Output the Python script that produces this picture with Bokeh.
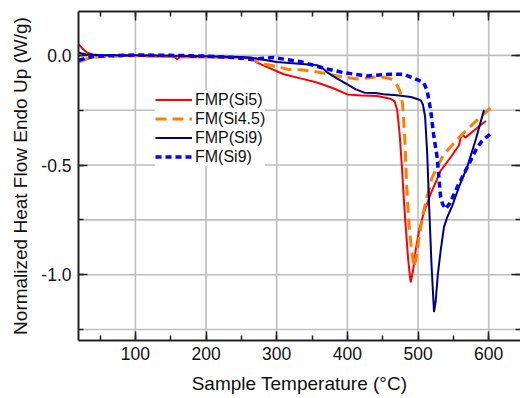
from bokeh.plotting import figure
from bokeh.models import (LinearAxis, SingleIntervalTicker, NumeralTickFormatter,
                          Legend, LegendItem)
from bokeh.embed import file_html
from bokeh.resources import INLINE

# ---- data ----
T_fmp_si5 = [20, 24, 28, 32, 40, 51, 80, 120, 155, 159, 163, 200, 240, 263, 273, 290, 310, 335, 357,
             380, 400, 420, 442, 461, 467, 470.5, 474, 477, 480, 483, 486, 489.6, 493, 497, 502, 508,
             518, 532, 545, 558, 560, 562, 567, 580, 596]
v_fmp_si5 = [0.05, 0.035, 0.022, 0.012, 0.004, 0.0, -0.002, -0.004, -0.006, -0.018, -0.007, -0.009,
             -0.011, -0.013, -0.034, -0.058, -0.086, -0.106, -0.124, -0.15, -0.178, -0.183, -0.185,
             -0.198, -0.21, -0.25, -0.36, -0.5, -0.66, -0.8, -0.93, -1.035, -0.98, -0.88, -0.79,
             -0.72, -0.63, -0.526, -0.47, -0.41, -0.38, -0.36, -0.375, -0.34, -0.299]

T_fm_si45 = [20, 28, 37, 60, 100, 150, 200, 250, 270, 282, 292, 316, 334, 358, 380, 395, 415, 437,
             447, 460, 466, 471, 475, 478, 481, 484, 487, 490, 494, 497, 500, 504, 508, 520, 530,
             537, 548, 556, 563, 572, 582, 592, 603]
v_fm_si45 = [-0.03, -0.02, -0.01, -0.004, -0.002, -0.004, -0.006, -0.012, -0.025, -0.04, -0.045,
             -0.064, -0.066, -0.076, -0.09, -0.1, -0.108, -0.1, -0.099, -0.105, -0.117, -0.14, -0.17,
             -0.22, -0.36, -0.6, -0.76, -0.86, -0.965, -0.93, -0.86, -0.78, -0.708, -0.556, -0.49,
             -0.45, -0.41, -0.38, -0.36, -0.33, -0.3, -0.27, -0.238]

T_fmp_si9 = [20, 30, 50, 100, 150, 200, 250, 263, 300, 340, 357, 362, 372, 385, 400, 412, 424, 440,
             451, 470, 490, 500, 504, 507, 510, 513, 516, 519, 522.6, 525, 528, 532, 536.6, 541, 548,
             558, 570, 582, 593, 594]
v_fmp_si9 = [0.012, 0.004, 0.0, 0.0, -0.002, -0.004, -0.008, -0.01, -0.03, -0.04, -0.045, -0.05,
             -0.079, -0.105, -0.132, -0.155, -0.17, -0.172, -0.177, -0.182, -0.19, -0.2, -0.205,
             -0.225, -0.28, -0.45, -0.71, -0.95, -1.17, -1.12, -1.0, -0.89, -0.784, -0.74, -0.69,
             -0.6, -0.505, -0.38, -0.253, -0.25]

T_fm_si9 = [20, 30, 45, 100, 150, 200, 240, 263, 296, 334, 367, 395, 428, 461, 480, 494, 508, 513,
            518, 522, 527, 532, 535, 539, 545, 555.6, 569.7, 583.6, 590.7, 596, 602]
v_fm_si9 = [-0.023, -0.012, -0.004, 0.002, 0.0, -0.003, -0.01, -0.018, -0.01, -0.029, -0.059, -0.079,
            -0.094, -0.086, -0.086, -0.104, -0.124, -0.162, -0.253, -0.36, -0.465, -0.647, -0.68,
            -0.70, -0.675, -0.60, -0.51, -0.42, -0.39, -0.375, -0.36]

labels = ["FMP(Si5)", "FM(Si4.5)", "FMP(Si9)", "FM(Si9)"]
x_title = "Sample Temperature (°C)"
y_title = "Normalized Heat Flow Endo Up (W/g)"
x_grid_values = [100, 200, 300, 400, 500, 600]
y_grid_values = [0.0, -0.25, -0.5, -0.75, -1.0, -1.25]
x_lim = (19.5, 645)
y_lim = (-1.3, 0.2)

FONT = "Liberation Sans"

p = figure(width=520, height=398, x_range=x_lim, y_range=y_lim,
           output_backend="svg", toolbar_location=None,
           min_border_left=78, min_border_right=0, min_border_top=11, min_border_bottom=58)
p.outline_line_color = None
p.background_fill_color = "white"
p.border_fill_color = "white"

xt = SingleIntervalTicker(interval=100, num_minor_ticks=2)
yt = SingleIntervalTicker(interval=0.5, num_minor_ticks=2)


def style_axis(ax, show_labels, line=True):
    ax.major_tick_in = 9
    ax.major_tick_out = 0
    ax.minor_tick_in = 5
    ax.minor_tick_out = 0
    ax.major_tick_line_color = "#222222"
    ax.minor_tick_line_color = "#222222"
    ax.major_tick_line_width = 1.5
    ax.minor_tick_line_width = 1.5
    ax.axis_line_color = "#222222" if line else None
    ax.axis_line_width = 2
    if show_labels:
        ax.major_label_text_font = FONT
        ax.major_label_text_font_size = "17.5px"
        ax.major_label_text_color = "#111111"
        ax.axis_label_text_font = FONT
        ax.axis_label_text_font_size = "19px"
        ax.axis_label_text_font_style = "normal"
        ax.axis_label_text_color = "#111111"
    else:
        ax.major_label_text_color = None
        ax.major_label_standoff = 0
        ax.axis_label = None
    return ax


xb = p.xaxis[0]
xb.ticker = xt
style_axis(xb, True)
xb.axis_label = x_title
xb.major_label_standoff = 6
xb.axis_label_standoff = 10

yl = p.yaxis[0]
yl.ticker = yt
style_axis(yl, True)
yl.axis_label = y_title
yl.formatter = NumeralTickFormatter(format="0.0")
yl.major_label_standoff = 7
yl.axis_label_standoff = 7

p.add_layout(style_axis(LinearAxis(ticker=xt), False), "above")
p.add_layout(style_axis(LinearAxis(ticker=yt), False, line=False), "right")

# grid lines drawn as glyphs at the tick values
p.xgrid.visible = False
p.ygrid.visible = False
nx, ny = len(x_grid_values), len(y_grid_values)
p.segment(x0=x_grid_values, x1=x_grid_values, y0=[y_lim[0]] * nx, y1=[y_lim[1]] * nx,
          line_color="#bebebe", line_width=1.6)
p.segment(x0=[x_lim[0]] * ny, x1=[x_lim[1]] * ny, y0=y_grid_values, y1=y_grid_values,
          line_color="#bebebe", line_width=1.6)

r1 = p.line(T_fmp_si5, v_fmp_si5, line_color="#ff0000", line_width=2)
r2 = p.line(T_fm_si45, v_fm_si45, line_color="#ff8000", line_width=3, line_dash="11 6")
r3 = p.line(T_fmp_si9, v_fmp_si9, line_color="#000080", line_width=2)
r4 = p.line(T_fm_si9, v_fm_si9, line_color="#0000ff", line_width=3.5, line_dash="6 4")

legend = Legend(items=[LegendItem(label=labels[0], renderers=[r1]),
                       LegendItem(label=labels[1], renderers=[r2]),
                       LegendItem(label=labels[2], renderers=[r3]),
                       LegendItem(label=labels[3], renderers=[r4])],
                location=(77, 174))
legend.label_text_font = FONT
legend.label_text_font_size = "16px"
legend.label_text_color = "#111111"
legend.glyph_width = 37
legend.glyph_height = 19
legend.label_height = 19
legend.label_standoff = 3
legend.spacing = 0
legend.padding = 4
legend.margin = 0
legend.border_line_color = None
legend.background_fill_color = "white"
legend.background_fill_alpha = 1.0
p.add_layout(legend, "center")

open("out.html", "w").write(file_html(p, INLINE))
